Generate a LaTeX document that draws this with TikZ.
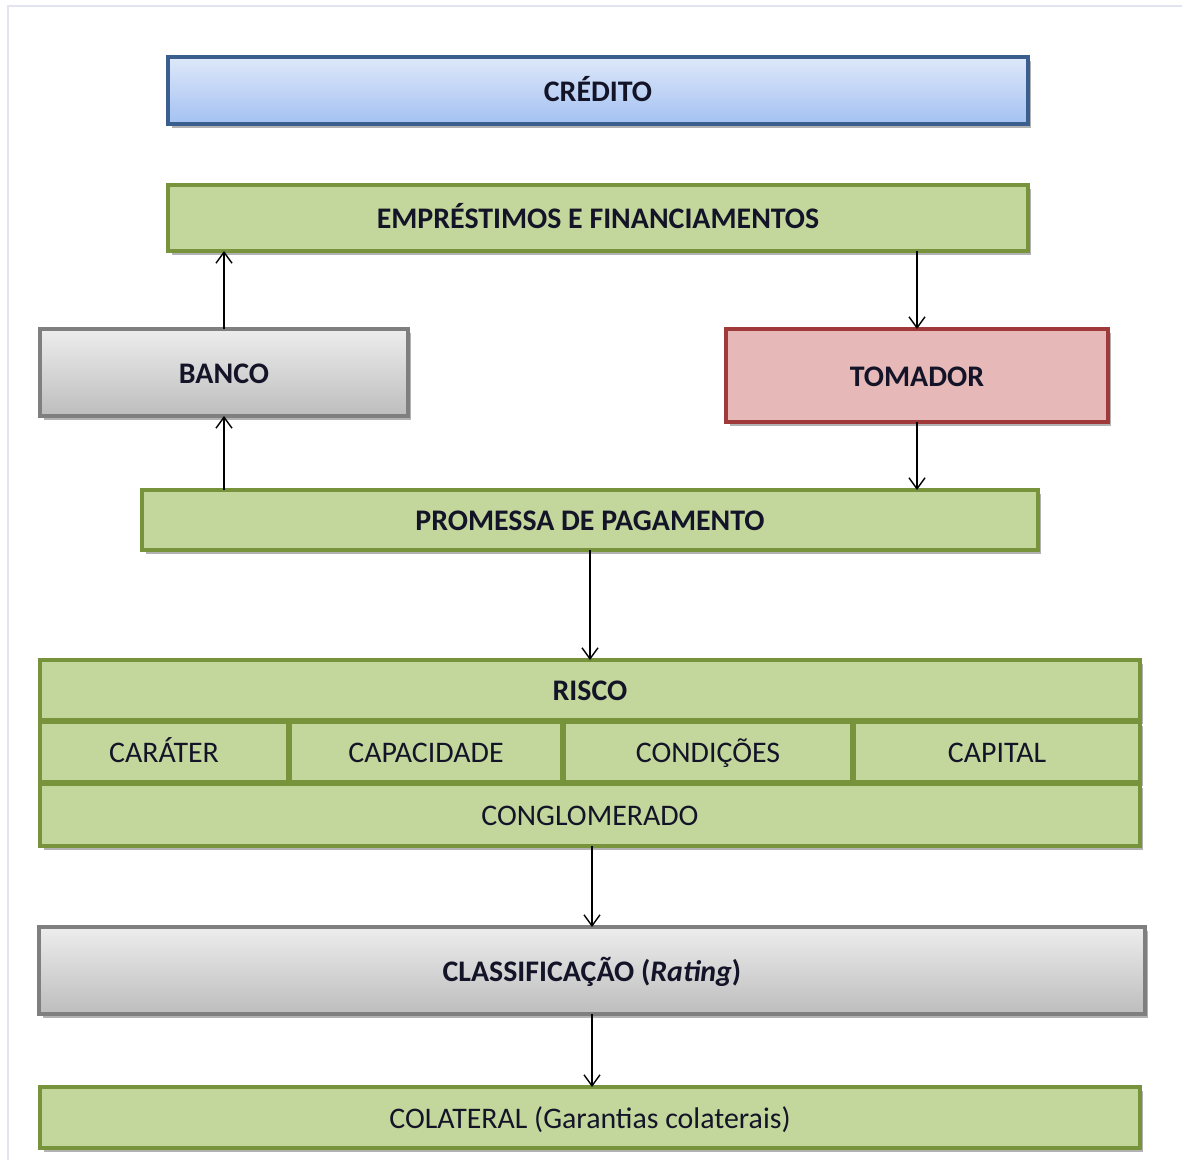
\documentclass[tikz,border=0pt]{standalone}
\usepackage{fontspec}
\setmainfont{Carlito}
\usepackage{tikz}
\usetikzlibrary{arrows.meta}
\usetikzlibrary{shadows}
\definecolor{greenfill}{HTML}{C3D69B}
\definecolor{greenline}{HTML}{77933C}
\definecolor{bluetop}{HTML}{DEE8F9}
\definecolor{bluebottom}{HTML}{A3C1F2}
\definecolor{blueline}{HTML}{3A5F8F}
\definecolor{graytop}{HTML}{EDEDED}
\definecolor{graybottom}{HTML}{BDBDBD}
\definecolor{grayline}{HTML}{7F7F7F}
\definecolor{redfill}{HTML}{E6B9B8}
\definecolor{redline}{HTML}{A0393A}
\definecolor{framecolor}{HTML}{E2E4F2}
\definecolor{textcolor}{HTML}{141428}

\begin{document}
\begin{tikzpicture}[x=0.02cm,y=-0.02cm,
  box/.style={draw,line width=2pt,inner sep=0pt,outer sep=0pt,text=textcolor,
    font=\fontsize{17}{20}\selectfont,text height=16pt,text depth=4pt,
    drop shadow={shadow xshift=2pt,shadow yshift=-2.5pt,opacity=0.3,fill=black}},
  greenbox/.style={box,draw=greenline,fill=greenfill},
  bluebox/.style={box,draw=blueline,top color=bluetop,bottom color=bluebottom},
  graybox/.style={box,draw=grayline,top color=graytop,bottom color=graybottom},
  redbox/.style={box,draw=redline,fill=redfill},
  title/.style={font=\fontsize{17}{20}\selectfont\bfseries},
  arr/.style={line width=0.8pt,-{Straight Barb[length=2.2mm,width=3.2mm]}}]
\useasboundingbox (0,0) rectangle (1188,1160);
\draw[framecolor,line width=1pt] (8,1160) -- (8,6) -- (1182,6);

% upper part
\node[bluebox,title,minimum width=17.2cm,minimum height=1.34cm] (credito) at (598,90.5) {CRÉDITO};
\node[greenbox,title,minimum width=17.2cm,minimum height=1.32cm] (emp) at (598,218) {EMPRÉSTIMOS E FINANCIAMENTOS};
\node[graybox,title,minimum width=7.36cm,minimum height=1.74cm] (banco) at (224,372.5) {BANCO};
\node[redbox,title,minimum width=7.64cm,minimum height=1.86cm] (tom) at (917,375.5) {TOMADOR};
\node[greenbox,title,minimum width=17.92cm,minimum height=1.2cm] (prom) at (590,520) {PROMESSA DE PAGAMENTO};

% risco table
\node[greenbox,title,minimum width=22cm,minimum height=1.2cm] (risco) at (590,690) {RISCO};
\foreach \name/\cx/\w/\txt in {carater/164/4.96/CARÁTER, capac/426/5.44/CAPACIDADE,
    cond/708/5.76/CONDIÇÕES, capital/997/5.72/CAPITAL}
  \node[greenbox,minimum width=\w cm,minimum height=1.2cm] (\name) at (\cx,752) {\txt};
\node[greenbox,minimum width=22cm,minimum height=1.24cm] (conglo) at (590,815) {CONGLOMERADO};

% lower part
\node[graybox,title,minimum width=22.12cm,minimum height=1.74cm] (classif) at (592,970.5) {CLASSIFICAÇÃO (\textit{Rating})};
\node[greenbox,minimum width=22cm,minimum height=1.22cm] (colat) at (590,1117.5) {COLATERAL (Garantias colaterais)};

% arrows
\draw[arr] (banco.north) -- (banco.north |- emp.south);
\draw[arr] (prom.north -| banco.south) -- (banco.south);
\draw[arr] (emp.south -| tom.north) -- (tom.north);
\draw[arr] (tom.south) -- (tom.south |- prom.north);
\draw[arr] (prom.south) -- (risco.north);
\draw[arr] (conglo.south -| classif.north) -- (classif.north);
\draw[arr] (classif.south) -- (classif.south |- colat.north);
\end{tikzpicture}
\end{document}
